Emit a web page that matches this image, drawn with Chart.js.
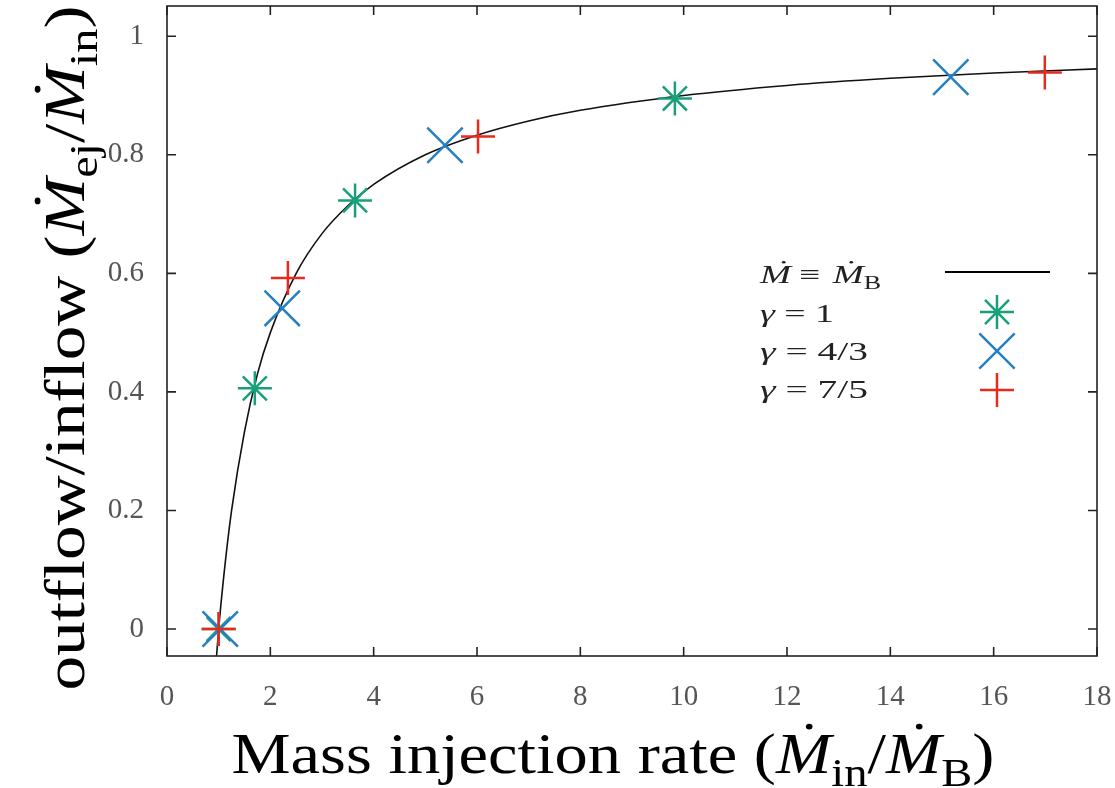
<!DOCTYPE html>
<html>
<head>
<meta charset="utf-8">
<script src="https://cdn.jsdelivr.net/npm/chart.js@4/dist/chart.umd.min.js"></script>
<style>
  body { margin: 0; background: #fff; }
  #wrap { width: 1115px; height: 788px; position: relative; }
</style>
</head>
<body>
<div id="wrap"><canvas id="chart"></canvas></div>
<script>
// values
var curveX = [0.96, 1, 1.1, 1.25, 1.5, 1.75, 2, 2.5, 3, 3.5, 4, 5, 6, 7, 8, 10, 12, 14, 16, 18];
var curveY = [-0.045, 0, 0.09, 0.2, 0.333, 0.43, 0.5, 0.6, 0.667, 0.714, 0.75, 0.8, 0.833, 0.857, 0.875, 0.9, 0.917, 0.929, 0.938, 0.945];

var gamma1X = [1, 1.70, 3.64, 9.83];
var gamma1Y = [0, 0.406, 0.723, 0.895];

var gamma43X = [1.03, 2.23, 5.38, 15.17];
var gamma43Y = [0, 0.541, 0.816, 0.931];

var gamma75X = [1, 2.34, 6.02, 16.99];
var gamma75Y = [0, 0.592, 0.831, 0.939];

var xTicks = [0, 2, 4, 6, 8, 10, 12, 14, 16, 18];
var yTicks = [0, 0.2, 0.4, 0.6, 0.8, 1];

var green = '#17a079', blue = '#2580c3', red = '#e8291d';
var serif = '"Liberation Serif", "DejaVu Serif", serif';

function pts(xs, ys){
    return xs.map(function(x, i){ return {x: x, y: ys[i]}; });
}

// draw a run of text pieces: {t, it: italic, sub: subscript, dot: dot over}
// width: stretch the run to this width (the original font is wider)
function drawRich(ctx, segs, x, y, size, align, width){
    var widths = segs.map(function(s){
        ctx.font = (s.it ? 'italic ' : '') + (s.sub ? size * 0.7 : size) + 'px ' + serif;
        return ctx.measureText(s.t).width + (s.gap || 0);
    });
    var total = widths.reduce(function(a, b){ return a + b; }, 0);
    var k = width ? width / total : 1;
    ctx.save();
    ctx.translate(align === 'center' ? x - total * k / 2 : x, y);
    ctx.scale(k, 1);
    ctx.textBaseline = 'alphabetic';
    ctx.textAlign = 'left';
    var cx = 0;
    segs.forEach(function(s, i){
        var fs = s.sub ? size * 0.7 : size;
        ctx.font = (s.it ? 'italic ' : '') + fs + 'px ' + serif;
        var yy = s.sub ? size * 0.22 : 0;
        ctx.fillText(s.t, cx, yy);
        if (s.dot){
            ctx.beginPath();
            ctx.arc(cx + widths[i] * 0.6, -size * 0.8, size * 0.05, 0, Math.PI * 2);
            ctx.fill();
        }
        cx += widths[i];
    });
    ctx.restore();
}

function drawMark(ctx, style, x, y, r, color){
    ctx.save();
    ctx.strokeStyle = color;
    ctx.lineWidth = 2.5;
    ctx.beginPath();
    if (style === 'cross' || style === 'star'){
        ctx.moveTo(x - r, y); ctx.lineTo(x + r, y);
        ctx.moveTo(x, y - r); ctx.lineTo(x, y + r);
    }
    if (style === 'crossRot' || style === 'star'){
        var d = r * 0.707;
        ctx.moveTo(x - d, y - d); ctx.lineTo(x + d, y + d);
        ctx.moveTo(x - d, y + d); ctx.lineTo(x + d, y - d);
    }
    ctx.stroke();
    ctx.restore();
}

var framePlugin = {
    id: 'frame',
    afterDraw: function(chart){
        var ctx = chart.ctx, a = chart.chartArea;
        var xs = chart.scales.x, ys = chart.scales.y;
        ctx.save();
        ctx.strokeStyle = '#222';
        ctx.lineWidth = 1.6;
        ctx.strokeRect(a.left, a.top, a.right - a.left, a.bottom - a.top);
        ctx.beginPath();
        xTicks.forEach(function(v){
            var px = xs.getPixelForValue(v);
            ctx.moveTo(px, a.bottom); ctx.lineTo(px, a.bottom - 9);
            ctx.moveTo(px, a.top); ctx.lineTo(px, a.top + 9);
        });
        yTicks.forEach(function(v){
            var py = ys.getPixelForValue(v);
            ctx.moveTo(a.left, py); ctx.lineTo(a.left + 9, py);
            ctx.moveTo(a.right, py); ctx.lineTo(a.right - 9, py);
        });
        ctx.stroke();

        // axis titles
        ctx.fillStyle = '#000';
        drawRich(ctx, [
            {t: 'Mass injection rate ('},
            {t: 'M', it: true, dot: true}, {t: 'in', sub: true},
            {t: '/'},
            {t: 'M', it: true, dot: true}, {t: 'B', sub: true},
            {t: ')'}
        ], 613, 773, 58, 'center', 763);

        ctx.save();
        ctx.translate(84, 348);
        ctx.rotate(-Math.PI / 2);
        drawRich(ctx, [
            {t: 'outflow/inflow ('},
            {t: 'M', it: true, dot: true}, {t: 'ej', sub: true},
            {t: '/'},
            {t: 'M', it: true, dot: true}, {t: 'in', sub: true},
            {t: ')'}
        ], 0, 0, 58, 'center', 685);
        ctx.restore();

        // legend inside the plot
        ctx.fillStyle = '#222';
        var lx = 760, sx = 997;
        drawRich(ctx, [
            {t: 'M', it: true, dot: true, gap: 6}, {t: '≡ ', gap: 2},
            {t: 'M', it: true, dot: true}, {t: 'B', sub: true}
        ], lx, 283, 26, 'left', 121);
        drawRich(ctx, [{t: 'γ', it: true}, {t: ' = 1'}], lx, 322, 26, 'left', 74);
        drawRich(ctx, [{t: 'γ', it: true}, {t: ' = 4/3'}], lx, 360, 26, 'left', 108);
        drawRich(ctx, [{t: 'γ', it: true}, {t: ' = 7/5'}], lx, 398, 26, 'left', 108);
        ctx.strokeStyle = '#000';
        ctx.lineWidth = 1.8;
        ctx.beginPath();
        ctx.moveTo(945, 272); ctx.lineTo(1050, 272);
        ctx.stroke();
        drawMark(ctx, 'star', sx, 312, 17, green);
        drawMark(ctx, 'crossRot', sx, 351, 25, blue);
        drawMark(ctx, 'cross', sx, 390, 17, red);
        ctx.restore();
    }
};

// tick labels may hang over the plot box, as in the original
function noPad(s){
    s.paddingLeft = 0; s.paddingRight = 0;
    s.paddingTop = 0; s.paddingBottom = 0;
}

var ctx = document.getElementById('chart').getContext('2d');
var config = {
    type: 'scatter',
    data: {
        datasets: [{
            label: 'M = MB',
            data: pts(curveX, curveY),
            showLine: true,
            borderColor: '#111',
            borderWidth: 1.6,
            pointRadius: 0,
            cubicInterpolationMode: 'monotone',
            order: 4
        }, {
            label: 'gamma = 1',
            data: pts(gamma1X, gamma1Y),
            pointStyle: 'star',
            pointRadius: 17,
            borderColor: green,
            backgroundColor: green,
            pointBorderWidth: 2.5,
            order: 3
        }, {
            label: 'gamma = 4/3',
            data: pts(gamma43X, gamma43Y),
            pointStyle: 'crossRot',
            pointRadius: 25,
            borderColor: blue,
            backgroundColor: blue,
            pointBorderWidth: 2.5,
            order: 2
        }, {
            label: 'gamma = 7/5',
            data: pts(gamma75X, gamma75Y),
            pointStyle: 'cross',
            pointRadius: 17,
            borderColor: red,
            backgroundColor: red,
            pointBorderWidth: 2.5,
            order: 1
        }]
    },
    options: {
        responsive: true,
        maintainAspectRatio: false,
        animation: false,
        layout: { autoPadding: false, padding: { top: 6, right: 18, left: 0, bottom: 0 } },
        plugins: {
            legend: { display: false },
            tooltip: { enabled: false }
        },
        scales: {
            x: {
                type: 'linear',
                min: 0, max: 18,
                grid: { display: false, drawTicks: false },
                border: { display: false },
                afterBuildTicks: function(s){ s.ticks = xTicks.map(function(v){ return {value: v}; }); },
                afterFit: function(s){ s.height = 132; noPad(s); },
                ticks: {
                    padding: 24,
                    color: '#555',
                    font: { family: serif, size: 29 }
                }
            },
            y: {
                type: 'linear',
                min: -0.0455, max: 1.051,
                grid: { display: false, drawTicks: false },
                border: { display: false },
                afterBuildTicks: function(s){ s.ticks = yTicks.map(function(v){ return {value: v}; }); },
                afterFit: function(s){ s.width = 167; noPad(s); },
                ticks: {
                    padding: 23,
                    color: '#555',
                    font: { family: serif, size: 29 },
                    callback: function(v){ return String(v); }
                }
            }
        }
    },
    plugins: [framePlugin]
};
window.myChart = new Chart(ctx, config);
</script>
</body>
</html>
